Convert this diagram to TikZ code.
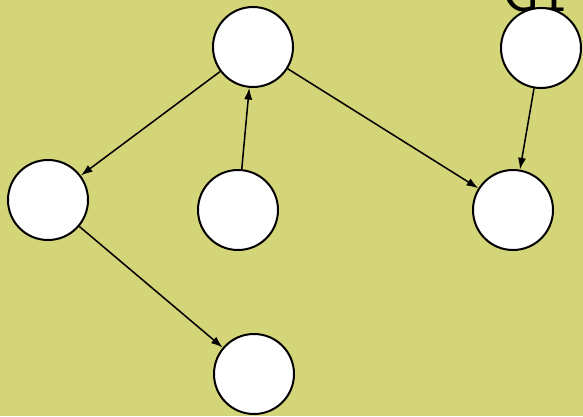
\documentclass[tikz,border=0pt]{standalone}
\usepackage{fontspec}
\setmainfont{Liberation Sans}
\usetikzlibrary{arrows.meta}
\definecolor{paper}{RGB}{212,212,120}

\begin{document}
\begin{tikzpicture}[%
  x=0.03cm, y=-0.03cm,
  vertex/.style={circle, draw, line width=1.7pt, fill=white, minimum size=2.4cm, inner sep=0pt},
  edge/.style={-{Latex[length=10pt,width=7pt]}, line width=1.3pt}]
\clip (0,0) rectangle (583,416);
\fill[paper] (0,0) rectangle (583,416);
\node[anchor=base west, inner sep=0pt, font=\sffamily\fontsize{52}{52}\selectfont] (title) at (501,11) {G1};
\node[vertex] (top) at (253,47) {};
\node[vertex] (corner) at (541,48) {};
\node[vertex] (left) at (48,200) {};
\node[vertex] (mid) at (238,210) {};
\node[vertex] (right) at (513,210) {};
\node[vertex] (bottom) at (254,374) {};
\draw[edge] (top) -- (left);
\draw[edge] (mid) -- (top);
\draw[edge] (top) -- (right);
\draw[edge] (corner) -- (right);
\draw[edge] (left) -- (bottom);
\end{tikzpicture}
\end{document}
